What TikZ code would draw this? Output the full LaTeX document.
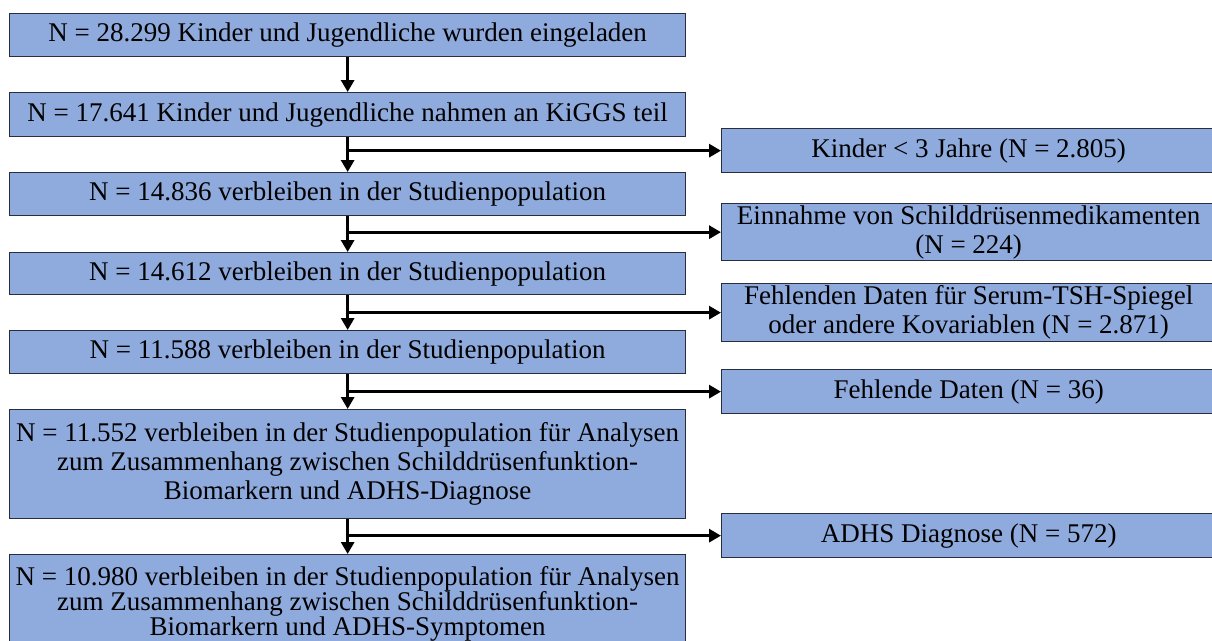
\documentclass[tikz,border=0pt]{standalone}
\usepackage{fontspec}
\setmainfont{Liberation Serif}
\usetikzlibrary{arrows.meta}
\definecolor{boxfill}{RGB}{143,170,220}
\definecolor{boxline}{RGB}{40,46,62}
\tikzset{
  mainbox/.style={draw=boxline, fill=boxfill, line width=1.3pt, rectangle,
    anchor=north west, minimum width=676pt, inner sep=0pt, align=center,
    font=\fontsize{27}{29}\selectfont},
  sidebox/.style={draw=boxline, fill=boxfill, line width=1.3pt, rectangle,
    anchor=north west, minimum width=494pt, inner sep=0pt, align=center,
    font=\fontsize{27}{29}\selectfont},
  conn/.style={line width=3pt, -{Triangle[length=12pt,width=13pt]}}
}
\begin{document}
\begin{tikzpicture}[x=1pt,y=-1pt]
\clip (0,0) rectangle (1212,640);
\fill[white] (0,0) rectangle (1212,640);
% main column
\node[mainbox, minimum height=43pt] (b1) at (9,13) {N = 28.299 Kinder und Jugendliche wurden eingeladen};
\node[mainbox, minimum height=44pt] (b2) at (9,92) {N = 17.641 Kinder und Jugendliche nahmen an KiGGS teil};
\node[mainbox, minimum height=43pt] (b3) at (9,172) {N = 14.836 verbleiben in der Studienpopulation};
\node[mainbox, minimum height=42pt] (b4) at (9,252) {N = 14.612 verbleiben in der Studienpopulation};
\node[mainbox, minimum height=43pt] (b5) at (9,330) {N = 11.588 verbleiben in der Studienpopulation};
\node[mainbox, minimum height=109pt] (b6) at (9,409) {N = 11.552 verbleiben in der Studienpopulation für Analysen\\zum Zusammenhang zwischen Schilddrüsenfunktion-\\Biomarkern und ADHS-Diagnose};
\node[mainbox, minimum height=99pt, font=\fontsize{27}{25}\selectfont] (b7) at (9,554) {N = 10.980 verbleiben in der Studienpopulation für Analysen\\zum Zusammenhang zwischen Schilddrüsenfunktion-\\Biomarkern und ADHS-Symptomen};
% side column
\node[sidebox, minimum height=44pt] (s1) at (721,128) {Kinder < 3 Jahre (N = 2.805)};
\node[sidebox, minimum height=57pt] (s2) at (721,203) {Einnahme von Schilddrüsenmedikamenten\\(N = 224)};
\node[sidebox, minimum height=58pt] (s3) at (721,283) {Fehlenden Daten für Serum-TSH-Spiegel\\oder andere Kovariablen (N = 2.871)};
\node[sidebox, minimum height=44pt] (s4) at (721,369) {Fehlende Daten (N = 36)};
\node[sidebox, minimum height=44pt] (s5) at (721,513) {ADHS Diagnose (N = 572)};
% connectors
\draw[conn] (b1.south) -- (b2.north);
\draw[conn] (b2.south) -- (b3.north);
\draw[conn] (b3.south) -- (b4.north);
\draw[conn] (b4.south) -- (b5.north);
\draw[conn] (b5.south) -- (b6.north);
\draw[conn] (b6.south) -- (b7.north);
\draw[conn] (b2.south |- s1.west) -- (s1.west);
\draw[conn] (b3.south |- s2.west) -- (s2.west);
\draw[conn] (b4.south |- s3.west) -- (s3.west);
\draw[conn] (b5.south |- s4.west) -- (s4.west);
\draw[conn] (b6.south |- s5.west) -- (s5.west);
\end{tikzpicture}
\end{document}
